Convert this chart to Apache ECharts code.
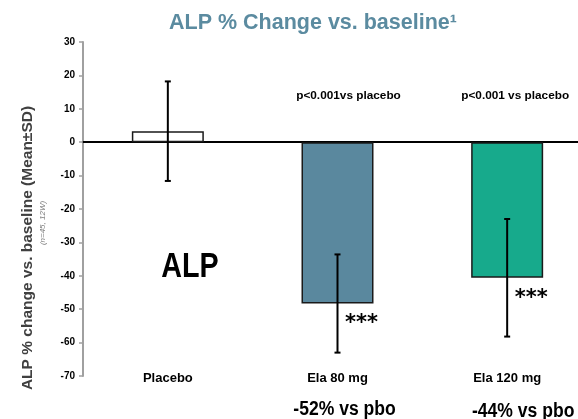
<!DOCTYPE html>
<html><head><meta charset="utf-8">
<script src="https://cdn.jsdelivr.net/npm/echarts@6/dist/echarts.min.js"></script>
<style>html,body{margin:0;padding:0;background:#fff;overflow:hidden;width:578px;height:419px}#c{width:592px;height:419px}</style>
</head><body><div id="c"></div>
<script>
// ---- data ----
const categories = ['Placebo', 'Ela 80 mg', 'Ela 120 mg'];
const meanChange = [3.3, -48.3, -40.6];
const sdValues = [14.9, 14.7, 17.6];
const significance = ['', '***', '***'];
const pValueLabels = ['', 'p<0.001vs placebo', 'p<0.001 vs placebo'];
const vsPlaceboLabels = ['', '-52% vs pbo', '-44% vs pbo'];
const yMin = -70, yMax = 30, yInterval = 10;
const titleText = 'ALP % Change vs. baseline\u00B9';
const yAxisTitle = 'ALP % change vs. baseline (Mean\u00B1SD)';
const yAxisSubTitle = '(n=45, 12W)';
const bigLabel = 'ALP';

// ---- styles / layout ----
const barColors = ['#FFFFFF', '#5A889E', '#17AA8C'];
const pLabelDx = [0, 11, 8];
const pbLabelDx = [0, 7, 16];
const pbLabelDy = [0, 0, 2];
const FONT = "'Liberation Sans', Arial, sans-serif";

const chart = echarts.init(document.getElementById('c'), null, {renderer: 'canvas'});

const option = {
  animation: false,
  backgroundColor: '#fff',
  title: {
    text: titleText, left: 164, top: 7,
    textStyle: {color: '#5B8BA0', fontSize: 21.5, fontWeight: 'bold', fontFamily: FONT}
  },
  grid: {left: 83, right: 0, top: 42, bottom: 43, containLabel: false},
  xAxis: [
    {
      type: 'category', data: categories,
      axisLine: {onZero: true, lineStyle: {color: '#000', width: 2}},
      axisTick: {show: false}, axisLabel: {show: false}, splitLine: {show: false}
    },
    {
      type: 'category', data: categories, position: 'bottom',
      axisLine: {show: false, onZero: false}, axisTick: {show: false},
      axisLabel: {margin: -4, color: '#000', fontSize: 13, fontWeight: 'bold', fontFamily: FONT},
      splitLine: {show: false}
    }
  ],
  yAxis: {
    type: 'value', min: yMin, max: yMax, interval: yInterval,
    axisLine: {show: true, lineStyle: {color: '#A0A0A0', width: 2}},
    axisTick: {show: true, length: 4, lineStyle: {color: '#A0A0A0', width: 1.5}},
    axisLabel: {margin: 8, color: '#000', fontSize: 10, fontWeight: 'bold', fontFamily: FONT},
    splitLine: {show: false}
  },
  series: [
    {
      type: 'bar', xAxisIndex: 0, yAxisIndex: 0, barWidth: 72,
      data: meanChange.map((v, i) => ({
        value: v,
        itemStyle: {color: barColors[i], borderColor: '#1a1a1a', borderWidth: 1.5},
        label: {
          show: !!significance[i], position: 'bottom', distance: 0, offset: [24, 10],
          formatter: () => significance[i],
          color: '#000', fontSize: 21, fontWeight: 'bold', fontFamily: "'DejaVu Sans', sans-serif"
        }
      }))
    },
    {
      type: 'custom', xAxisIndex: 0, yAxisIndex: 0, z: 10,
      data: meanChange.map((v, i) => [i, v - sdValues[i], v + sdValues[i]]),
      renderItem: function (params, api) {
        const lo = api.coord([api.value(0), api.value(1)]);
        const hi = api.coord([api.value(0), api.value(2)]);
        const cw = 3;
        const st = {stroke: '#000', lineWidth: 2};
        return {type: 'group', children: [
          {type: 'line', shape: {x1: lo[0], y1: lo[1], x2: hi[0], y2: hi[1]}, style: st},
          {type: 'line', shape: {x1: lo[0] - cw, y1: lo[1], x2: lo[0] + cw, y2: lo[1]}, style: st},
          {type: 'line', shape: {x1: hi[0] - cw, y1: hi[1], x2: hi[0] + cw, y2: hi[1]}, style: st}
        ]};
      }
    }
  ]
};
chart.setOption(option);

const graphics = [
  {type: 'text', x: 28, y: 248, rotation: Math.PI / 2,
   style: {text: yAxisTitle, align: 'center', verticalAlign: 'middle', fill: '#404040',
           font: "bold 15.5px " + FONT}},
  {type: 'text', x: 43, y: 223, rotation: Math.PI / 2,
   style: {text: yAxisSubTitle, align: 'center', verticalAlign: 'middle', fill: '#808080',
           font: "italic 8px " + FONT}},
  {type: 'text', x: 190, y: 267, scaleX: 0.82,
   style: {text: bigLabel, align: 'center', verticalAlign: 'middle', fill: '#000',
           font: "bold 35px " + FONT}}
];
categories.forEach((c, i) => {
  const px = chart.convertToPixel({xAxisIndex: 0}, c);
  if (pValueLabels[i]) {
    graphics.push({type: 'text', x: px + pLabelDx[i], y: chart.convertToPixel({yAxisIndex: 0}, 14),
      style: {text: pValueLabels[i], align: 'center', verticalAlign: 'middle', fill: '#000',
              font: "bold 11.8px " + FONT}});
  }
  if (vsPlaceboLabels[i]) {
    graphics.push({type: 'text', x: px + pbLabelDx[i], y: chart.getHeight() - 9 + pbLabelDy[i],
      scaleX: 0.9,
      style: {text: vsPlaceboLabels[i], align: 'center', verticalAlign: 'middle', fill: '#000',
              font: "bold 19.5px " + FONT}});
  }
});
chart.setOption({graphic: graphics});
</script></body></html>
